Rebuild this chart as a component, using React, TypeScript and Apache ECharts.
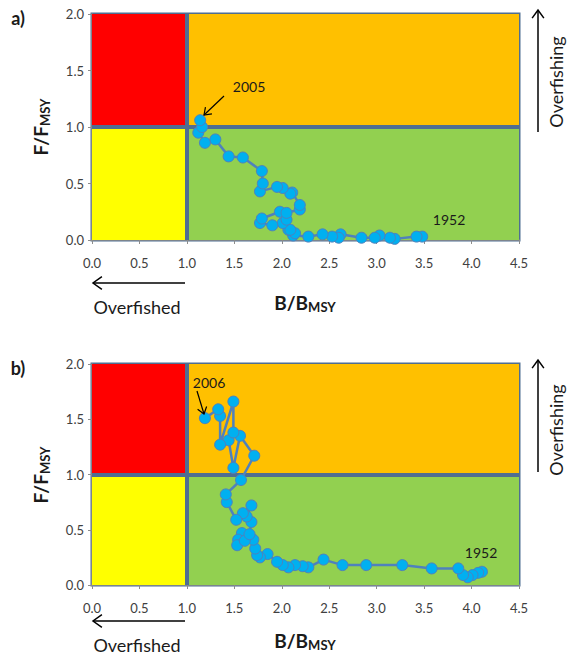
import React, { useEffect, useRef } from "react";
import * as echarts from "echarts";

// Panel a: [B/BMSY, F/FMSY], chronological 1952 -> 2005
const panelA: number[][] = [
  [3.48, 0.03], [3.42, 0.03], [3.19, 0.01], [3.14, 0.02], [3.03, 0.04], [2.98, 0.02],
  [2.84, 0.02], [2.62, 0.05], [2.6, 0.02], [2.53, 0.03], [2.43, 0.05], [2.28, 0.03],
  [2.12, 0.04], [2.14, 0.06], [2.07, 0.09], [2.09, 0.09], [2.01, 0.15], [1.9, 0.13],
  [1.77, 0.15], [1.79, 0.19], [1.98, 0.25], [2.05, 0.18], [2.05, 0.24], [2.19, 0.27],
  [2.19, 0.31], [2.11, 0.42], [2.09, 0.41], [2.01, 0.46], [1.95, 0.47], [1.77, 0.43],
  [1.8, 0.5], [1.79, 0.61], [1.59, 0.73], [1.44, 0.74], [1.3, 0.89], [1.19, 0.86],
  [1.12, 0.95], [1.16, 1.0], [1.14, 1.06],
];

// Panel b: [B/BMSY, F/FMSY], chronological 1952 -> 2006
const panelB: number[][] = [
  [4.11, 0.12], [4.07, 0.11], [4.01, 0.09], [3.96, 0.07], [3.91, 0.09], [3.86, 0.15],
  [3.58, 0.15], [3.27, 0.18], [2.89, 0.18], [2.64, 0.18], [2.44, 0.23], [2.28, 0.16],
  [2.22, 0.17], [2.14, 0.18], [2.07, 0.16], [2.01, 0.18], [1.95, 0.21], [1.85, 0.28],
  [1.77, 0.25], [1.74, 0.27], [1.72, 0.33], [1.7, 0.41], [1.58, 0.47], [1.54, 0.41],
  [1.53, 0.36], [1.61, 0.4], [1.66, 0.46], [1.68, 0.57], [1.63, 0.62], [1.68, 0.72],
  [1.59, 0.65], [1.52, 0.59], [1.42, 0.75], [1.41, 0.82], [1.57, 0.95], [1.71, 1.17],
  [1.56, 1.35], [1.49, 1.06], [1.44, 1.31], [1.49, 1.38], [1.49, 1.66], [1.35, 1.27],
  [1.35, 1.53], [1.33, 1.59], [1.19, 1.51],
];

const xTicks = [0, 0.5, 1, 1.5, 2, 2.5, 3, 3.5, 4, 4.5];
const yTicks = [0, 0.5, 1, 1.5, 2];

const FONT = "Lato, 'Open Sans', sans-serif";
const TXT = "#1a1a1a";

function arrow(x1: number, y1: number, x2: number, y2: number, head = 8, width = 1.5) {
  const ang = Math.atan2(y2 - y1, x2 - x1);
  const a1 = ang + Math.PI - Math.PI / 5;
  const a2 = ang + Math.PI + Math.PI / 5;
  return [
    { type: "line", z: 100, shape: { x1, y1, x2, y2 }, style: { stroke: "#000", lineWidth: width } },
    {
      type: "polyline", z: 100,
      shape: {
        points: [
          [x2 + head * Math.cos(a1), y2 + head * Math.sin(a1)],
          [x2, y2],
          [x2 + head * Math.cos(a2), y2 + head * Math.sin(a2)],
        ],
      },
      style: { stroke: "#000", lineWidth: width, fill: "none" },
    },
  ];
}

export default function App() {
  const ref = useRef<HTMLDivElement>(null);
  useEffect(() => {
    if (!ref.current) return;
    const chart = echarts.init(ref.current, null, { renderer: "svg" });

    const grids = [
      { left: 92, top: 14, width: 427, height: 226, show: true, borderColor: "#4f6e92", borderWidth: 3, backgroundColor: "transparent" },
      { left: 92, top: 364, width: 427, height: 221, show: true, borderColor: "#4f6e92", borderWidth: 3, backgroundColor: "transparent" },
    ];

    const mkX = (i: number) => ({
      gridIndex: i, type: "value", min: xTicks[0], max: xTicks[xTicks.length - 1], interval: 0.5,
      axisLabel: { formatter: (v: number) => v.toFixed(1), margin: 16, color: "#404040", fontSize: 13, fontFamily: FONT },
      axisLine: { show: true, onZero: false, lineStyle: { color: "#8c8c8c", width: 1.5 } },
      axisTick: { show: true, length: 4, lineStyle: { color: "#8c8c8c" } },
      splitLine: { show: false },
    });
    const mkY = (i: number) => ({
      gridIndex: i, type: "value", min: yTicks[0], max: yTicks[yTicks.length - 1], interval: 0.5,
      axisLabel: { formatter: (v: number) => v.toFixed(1), margin: 8, color: "#404040", fontSize: 13, fontFamily: FONT },
      axisLine: { show: true, onZero: false, lineStyle: { color: "#8c8c8c", width: 1.5 } },
      axisTick: { show: true, length: 4, lineStyle: { color: "#8c8c8c" } },
      splitLine: { show: false },
    });

    const zones = (i: number) => ({
      type: "scatter", xAxisIndex: i, yAxisIndex: i, z: 1, silent: true,
      data: [[0, 0]], symbolSize: 0,
      markArea: {
        silent: true,
        data: [
          [{ xAxis: 0, yAxis: 1, itemStyle: { color: "#ff0000" } }, { xAxis: 1, yAxis: 2 }],
          [{ xAxis: 1, yAxis: 1, itemStyle: { color: "#ffc000" } }, { xAxis: 4.5, yAxis: 2 }],
          [{ xAxis: 0, yAxis: 0, itemStyle: { color: "#ffff00" } }, { xAxis: 1, yAxis: 1 }],
          [{ xAxis: 1, yAxis: 0, itemStyle: { color: "#92d050" } }, { xAxis: 4.5, yAxis: 1 }],
        ],
      },
      markLine: {
        silent: true, symbol: "none", label: { show: false },
        lineStyle: { color: "#4f6e92", width: 4, type: "solid" },
        data: [{ xAxis: 1 }, { yAxis: 1 }],
      },
    });

    const traj = (i: number, data: number[][]) => ({
      type: "line", xAxisIndex: i, yAxisIndex: i, z: 5, data,
      symbol: "circle", symbolSize: 11, showSymbol: true,
      lineStyle: { color: "#4f81bd", width: 2.5 },
      itemStyle: { color: "#00b0f0", borderColor: "#4f81bd", borderWidth: 1 },
    });

    const rich = {
      a: { fontSize: 19, fontWeight: "bold", fontFamily: FONT, fill: TXT },
      b: { fontSize: 13, fontWeight: "bold", fontFamily: FONT, fill: TXT, padding: [9, 0, 0, 0] },
    };
    const yTitle = (cx: number, cy: number) => ({
      type: "text", z: 100, x: cx, y: cy, rotation: Math.PI / 2,
      style: { text: "{a|F/F}{b|MSY}", align: "center", verticalAlign: "middle", rich },
    });
    const xTitle = (cx: number, cy: number) => ({
      type: "text", z: 100, x: cx, y: cy,
      style: { text: "{a|B/B}{b|MSY}", align: "center", verticalAlign: "middle", rich },
    });
    const plain = (x: number, y: number, text: string, size: number, bold = false, rot = 0) => ({
      type: "text", z: 100, x, y, rotation: rot,
      style: { text, fontSize: size, fontWeight: bold ? "bold" : "normal", fontFamily: FONT, fill: TXT, align: "center", verticalAlign: "middle" },
    });

    const graphic: any[] = [
      plain(18, 18, "a)", 18, true),
      plain(18, 368, "b)", 18, true),
      yTitle(40, 127),
      yTitle(40, 475),
      xTitle(305, 302),
      xTitle(305, 640),
      plain(137, 307, "Overfished", 18),
      plain(137, 645, "Overfished", 18),
      ...arrow(185, 283, 93, 283, 11),
      ...arrow(185, 621, 93, 621, 11),
      plain(556, 82, "Overfishing", 18, false, Math.PI / 2),
      plain(556, 430, "Overfishing", 18, false, Math.PI / 2),
      ...arrow(538, 132, 538, 10, 10),
      ...arrow(538, 472, 538, 360, 10),
      plain(249, 86, "2005", 14),
      ...arrow(224, 96, 204, 115, 8, 1.2),
      plain(209, 382, "2006", 14),
      ...arrow(197, 391, 204, 414, 8, 1.2),
      plain(449, 219, "1952", 14),
      plain(481, 552, "1952", 14),
    ];

    chart.setOption({
      animation: false,
      backgroundColor: "#ffffff",
      grid: grids,
      xAxis: [mkX(0), mkX(1)],
      yAxis: [mkY(0), mkY(1)],
      series: [zones(0), zones(1), traj(0, panelA), traj(1, panelB)],
      graphic,
    });
    return () => chart.dispose();
  }, []);
  return <div ref={ref} style={{ position: "fixed", left: 0, top: 0, width: 569, height: 655 }} />;
}
